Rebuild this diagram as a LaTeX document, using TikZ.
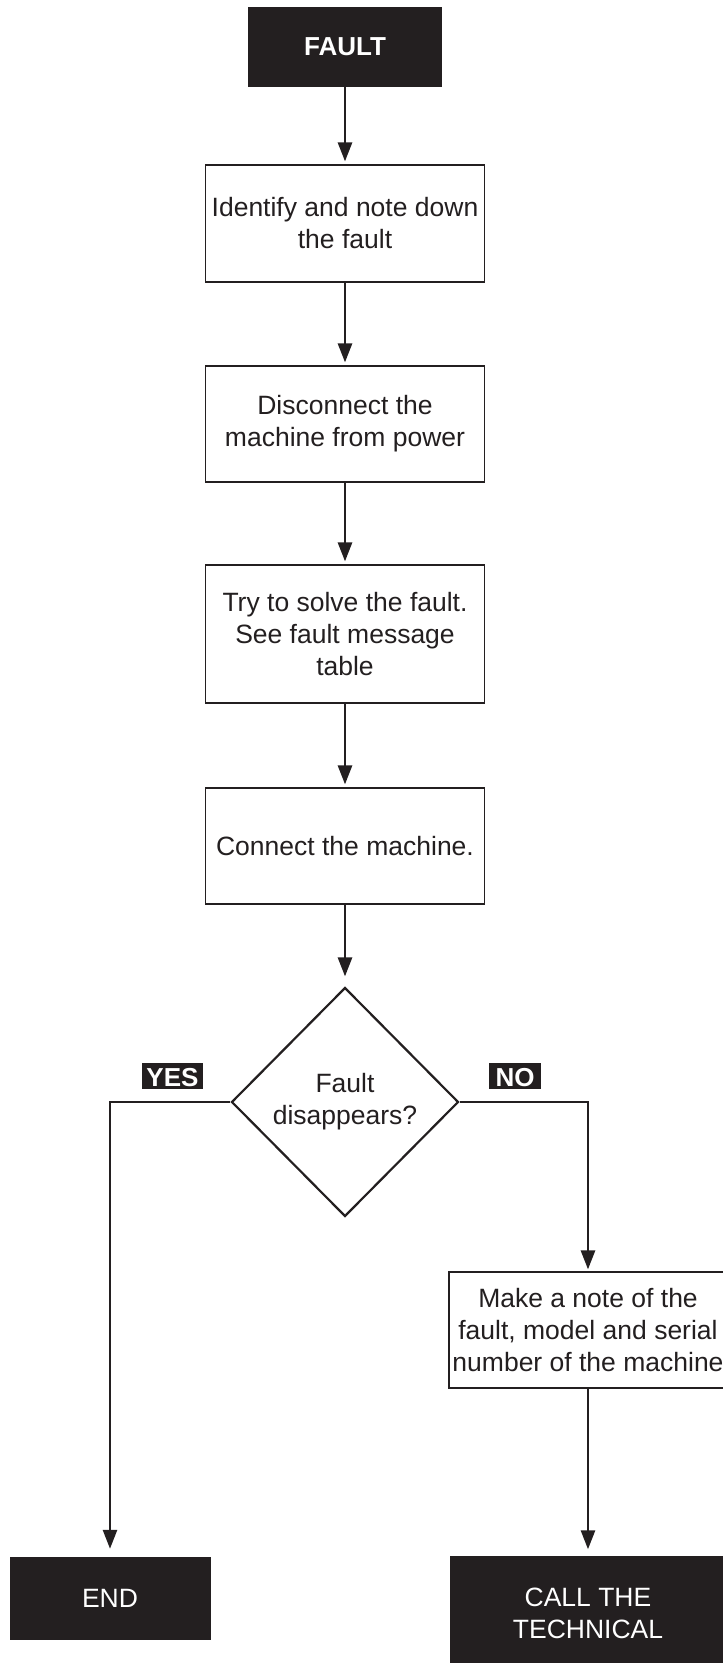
\documentclass[tikz,border=0pt]{standalone}
\usepackage{fontspec}
\setmainfont{Liberation Sans}
\usetikzlibrary{shapes.geometric,arrows.meta}
\definecolor{ink}{HTML}{231F20}
\begin{document}
\begin{tikzpicture}[x=1pt,y=-1pt,
  every node/.style={font=\fontsize{26.5}{32}\selectfont, text=ink},
  box/.style={draw=ink, line width=1.2pt, fill=white, minimum width=279pt, minimum height=117pt, align=center, inner sep=0pt},
  dark/.style={fill=ink, draw=ink, text=white, align=center, inner sep=0pt},
  lab/.style={fill=ink, text=white, font=\fontsize{26}{32}\selectfont\bfseries, inner xsep=0pt, inner ysep=2pt, text height=21.6pt, text depth=0pt, minimum height=26pt},
  arr/.style={draw=ink, line width=2.7pt, -{Triangle[length=19pt,width=14pt]}},
  dec/.style={diamond, draw=ink, line width=2.2pt, fill=white, minimum width=227pt, minimum height=229pt, inner sep=0pt, align=center}
]
\useasboundingbox (0,0) rectangle (723,1663);
\clip (0,0) rectangle (723,1663);

\node[dark, minimum width=193pt, minimum height=79pt, font=\fontsize{26}{32}\selectfont\bfseries] (fault) at (345,46.5) {FAULT};
\node[box] (b1) at (345,223.5) {Identify and note down\\the fault};
\node[box, minimum height=116pt] (b2) at (345,424) {Disconnect the\\machine from power};
\node[box, minimum height=138pt] (b3) at (345,634) {Try to solve the fault.\\See fault message\\table};
\node[box, minimum height=116pt] (b4) at (345,846) {Connect the machine.};
\node[dec] (dia) at (345,1102) {Fault\\disappears?};
\node[lab, minimum width=61pt] (yes) at (172.5,1076) {YES};
\node[lab, minimum width=52pt] (no) at (515,1076) {NO};
\node[box, minimum width=278pt, minimum height=116pt] (note) at (588,1330) {Make a note of the\\fault, model and serial\\number of the machine};
\node[dark, minimum width=200pt, minimum height=82pt] (endn) at (110,1598) {END};
\node[dark, minimum width=276pt, minimum height=113pt] (call) at (588,1613) {CALL THE\\TECHNICAL};

\draw[arr, shorten >=3pt] (fault) -- (b1);
\draw[arr, shorten >=3pt] (b1) -- (b2);
\draw[arr, shorten >=3pt] (b2) -- (b3);
\draw[arr, shorten >=3pt] (b3) -- (b4);
\draw[arr, shorten >=10pt] (b4) -- (dia);
\draw[arr, shorten >=8pt] (dia.west) -| (endn.north);
\draw[arr, shorten >=2pt] (dia.east) -| (note.north);
\draw[arr, shorten >=7pt] (note) -- (call);
\end{tikzpicture}
\end{document}
